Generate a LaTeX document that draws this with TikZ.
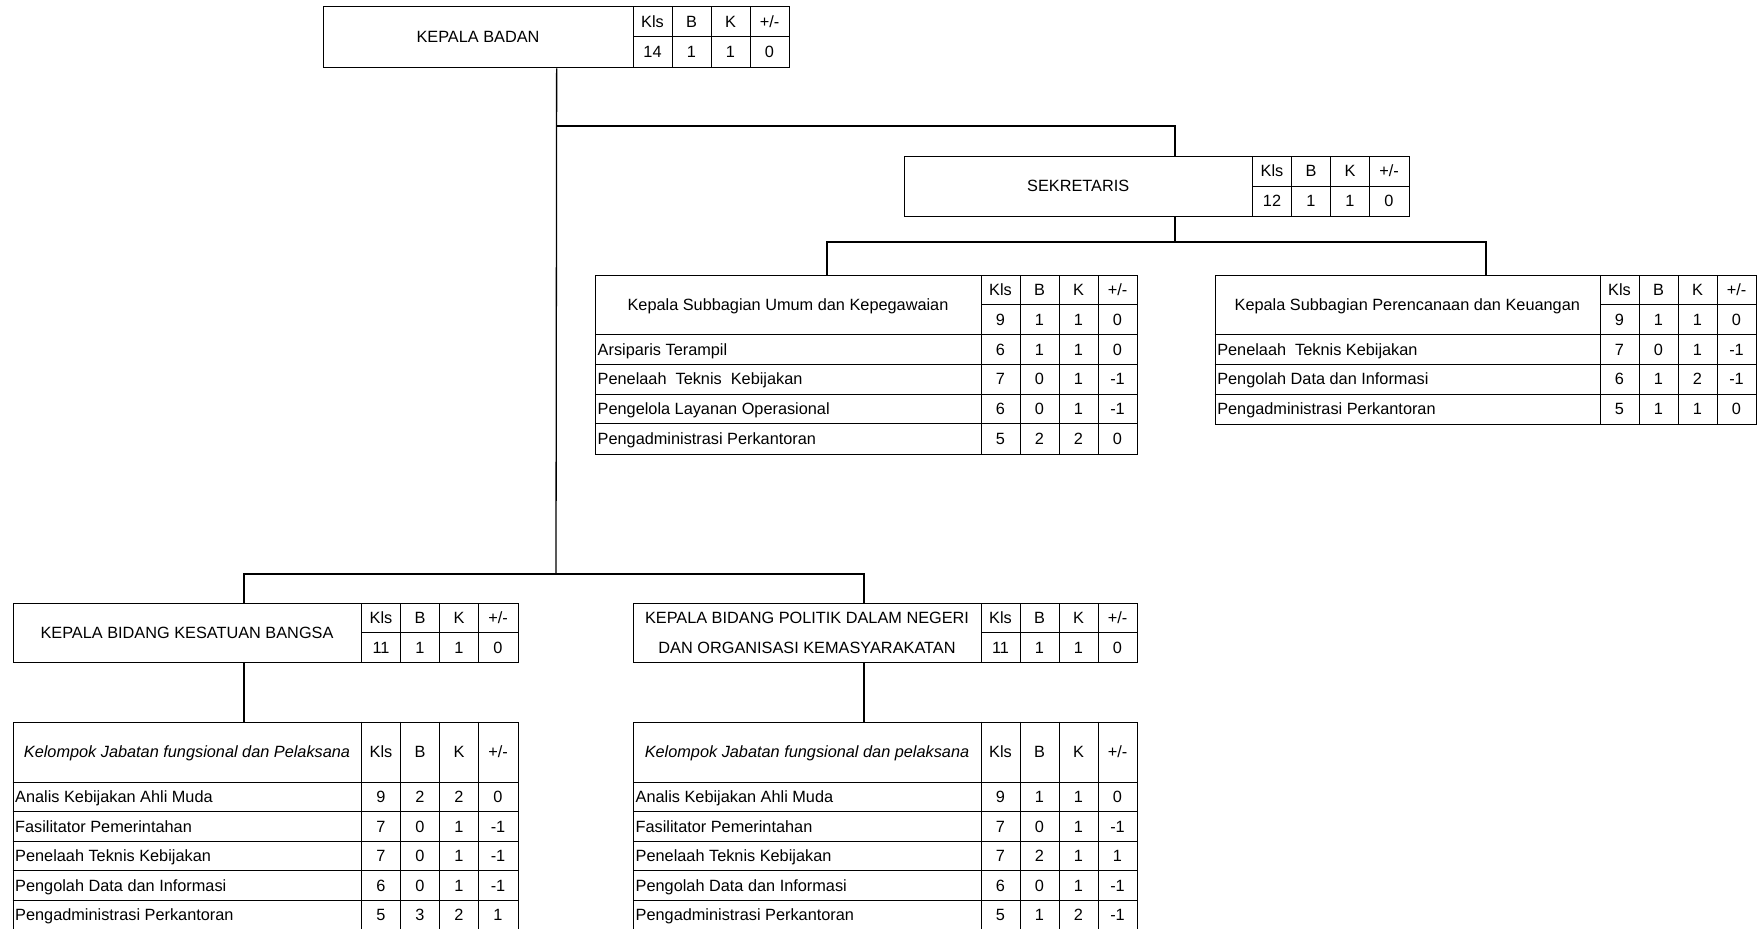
\documentclass[tikz,border=0pt]{standalone}
\usepackage{fontspec}
\setmainfont{Liberation Sans}
\newcommand\rh{29.75}
\newcommand\frm[5]{% name x1 y1 x2 y2
  \pgfmathsetmacro\fw{#4-#2}\pgfmathsetmacro\fh{#5-#3}%
  \node[frame, minimum width=\fw pt, minimum height=\fh pt] (#1) at (#2,#3) {};}
\newcommand\colsv[3]{% x2 ytop ybot
  \foreach \d in {156,117,78,39} {\draw[grid] (#1-\d,#2) -- (#1-\d,#3);}}
\newcommand\nums[7]{% prefix x2 yc a b c d
  \node[txt] (#1a) at (#2-136.5,#3) {#4};
  \node[txt] (#1b) at (#2-97.5,#3) {#5};
  \node[txt] (#1c) at (#2-58.5,#3) {#6};
  \node[txt] (#1d) at (#2-19.5,#3) {#7};}
\newcommand\drow[9]{% prefix x1 x2 ytop label a b c d
  \draw[grid] (#2,#4) -- (#3,#4);
  \node[txt, anchor=west] (#1l) at (#2+2.5,#4+\rh/2) {#5};
  \nums{#1}{#3}{#4+\rh/2}{#6}{#7}{#8}{#9}}
\newcommand\hdr[5]{% x2 ytop ybot  top-row-yc bottom-row-yc  : mid line
  \colsv{#1}{#2}{#3}
  \draw[grid] (#1-156,#4) -- (#1,#4);}
\begin{document}
\begin{tikzpicture}[x=1pt,y=-1pt,
  frame/.style={draw, line width=1.3pt, rectangle, inner sep=0pt, anchor=north west},
  grid/.style={line width=1pt},
  conn/.style={line width=1.3pt},
  txt/.style={inner sep=0pt, text height=11.7pt, text depth=0pt, font=\fontsize{16.3}{19}\selectfont},
  txtb/.style={inner sep=0pt, font=\fontsize{16.3}{19}\selectfont}]
\path[use as bounding box] (0,0) rectangle (1757,929);
\clip (0,0) rectangle (1757,929);

% ---------- KEPALA BADAN ----------
\frm{kb}{323}{6}{789}{67}
\hdr{789}{6}{67}{36.5}{}
\node[txt] (kbname) at (478,36.5) {KEPALA BADAN};
\nums{kbh}{789}{21.25}{Kls}{B}{K}{+/-}
\nums{kbv}{789}{51.75}{14}{1}{1}{0}

% ---------- SEKRETARIS ----------
\frm{sek}{904}{156}{1408.5}{216}
\hdr{1408.5}{156}{216}{186}{}
\node[txt] (sekname) at (1078.25,186) {SEKRETARIS};
\nums{sekh}{1408.5}{171}{Kls}{B}{K}{+/-}
\nums{sekv}{1408.5}{201}{12}{1}{1}{0}

% ---------- SUBBAGIAN UMUM ----------
\frm{um}{595}{275}{1137}{453.5}
\colsv{1137}{275}{453.5}
\draw[grid] (1137-156,304.75) -- (1137,304.75);
\node[txt] (umname) at (788,304.75) {Kepala Subbagian Umum dan Kepegawaian};
\nums{umh}{1137}{289.875}{Kls}{B}{K}{+/-}
\nums{umv}{1137}{319.625}{9}{1}{1}{0}
\drow{um1}{595}{1137}{334.5}{Arsiparis Terampil}{6}{1}{1}{0}
\drow{um2}{595}{1137}{364.25}{Penelaah~ Teknis~ Kebijakan}{7}{0}{1}{-1}
\drow{um3}{595}{1137}{394}{Pengelola Layanan Operasional}{6}{0}{1}{-1}
\drow{um4}{595}{1137}{423.75}{Pengadministrasi Perkantoran}{5}{2}{2}{0}

% ---------- SUBBAGIAN PERENCANAAN ----------
\frm{pe}{1214.6}{275}{1756}{423.75}
\colsv{1756}{275}{423.75}
\draw[grid] (1756-156,304.75) -- (1756,304.75);
\node[txt] (pename) at (1407.3,304.75) {Kepala Subbagian Perencanaan dan Keuangan};
\nums{peh}{1756}{289.875}{Kls}{B}{K}{+/-}
\nums{pev}{1756}{319.625}{9}{1}{1}{0}
\drow{pe1}{1214.6}{1756}{334.5}{Penelaah~ Teknis Kebijakan}{7}{0}{1}{-1}
\drow{pe2}{1214.6}{1756}{364.25}{Pengolah Data dan Informasi}{6}{1}{2}{-1}
\drow{pe3}{1214.6}{1756}{394}{Pengadministrasi Perkantoran}{5}{1}{1}{0}

% ---------- KEPALA BIDANG KESATUAN BANGSA ----------
\frm{ks}{12.5}{603}{517.5}{662}
\hdr{517.5}{603}{662}{632.5}{}
\node[txt] (ksname) at (187,632.5) {KEPALA BIDANG KESATUAN BANGSA};
\nums{ksh}{517.5}{617.75}{Kls}{B}{K}{+/-}
\nums{ksv}{517.5}{647.25}{11}{1}{1}{0}

% ---------- KEPALA BIDANG POLITIK ----------
\frm{pd}{633}{603}{1137}{662}
\hdr{1137}{603}{662}{632.5}{}
\node[txt] (pdname1) at (807,617.75) {KEPALA BIDANG POLITIK DALAM NEGERI};
\node[txt] (pdname2) at (807,647.25) {DAN ORGANISASI KEMASYARAKATAN};
\nums{pdh}{1137}{617.75}{Kls}{B}{K}{+/-}
\nums{pdv}{1137}{647.25}{11}{1}{1}{0}

% ---------- KELOMPOK (left) ----------
\renewcommand\rh{29.5}
\frm{k1}{12.5}{721.7}{517.5}{931}
\colsv{517.5}{721.7}{931}
\node[txt] (k1name) at (187,751.85) {\itshape Kelompok Jabatan fungsional dan Pelaksana};
\nums{k1h}{517.5}{751.85}{Kls}{B}{K}{+/-}
\drow{k1r1}{12.5}{517.5}{782}{Analis Kebijakan Ahli Muda}{9}{2}{2}{0}
\drow{k1r2}{12.5}{517.5}{811.5}{Fasilitator Pemerintahan}{7}{0}{1}{-1}
\drow{k1r3}{12.5}{517.5}{841}{Penelaah Teknis Kebijakan}{7}{0}{1}{-1}
\drow{k1r4}{12.5}{517.5}{870.5}{Pengolah Data dan Informasi}{6}{0}{1}{-1}
\drow{k1r5}{12.5}{517.5}{900}{Pengadministrasi Perkantoran}{5}{3}{2}{1}

% ---------- KELOMPOK (right) ----------
\frm{k2}{633}{721.7}{1137}{931}
\colsv{1137}{721.7}{931}
\node[txt] (k2name) at (807,751.85) {\itshape Kelompok Jabatan fungsional dan pelaksana};
\nums{k2h}{1137}{751.85}{Kls}{B}{K}{+/-}
\drow{k2r1}{633}{1137}{782}{Analis Kebijakan Ahli Muda}{9}{1}{1}{0}
\drow{k2r2}{633}{1137}{811.5}{Fasilitator Pemerintahan}{7}{0}{1}{-1}
\drow{k2r3}{633}{1137}{841}{Penelaah Teknis Kebijakan}{7}{2}{1}{1}
\drow{k2r4}{633}{1137}{870.5}{Pengolah Data dan Informasi}{6}{0}{1}{-1}
\drow{k2r5}{633}{1137}{900}{Pengadministrasi Perkantoran}{5}{1}{2}{-1}

% ---------- connectors ----------
\coordinate (jA) at (556,574);
\coordinate (jS) at (556,126);
\coordinate (sekN) at (1175,156);
\coordinate (sekS) at (1175,216);
\coordinate (jB) at (1175,242);
\coordinate (umN) at (827,275);
\coordinate (ksN) at (244,603);
\coordinate (ksS) at (244,662);
\coordinate (k1N) at (244,721.7);
\coordinate (pdN) at (864,603);
\coordinate (pdS) at (864,662);
\coordinate (k2N) at (864,721.7);
\draw[conn] (kb.south) -- (jA);
\draw[conn] (jS) -| (sekN);
\draw[conn] (sekS) -- (jB);
\draw[conn] (umN) |- (jB) -| (pe.north);
\draw[conn] (ksN) |- (jA) -| (pdN);
\draw[conn] (ksS) -- (k1N);
\draw[conn] (pdS) -- (k2N);
\end{tikzpicture}
\end{document}
